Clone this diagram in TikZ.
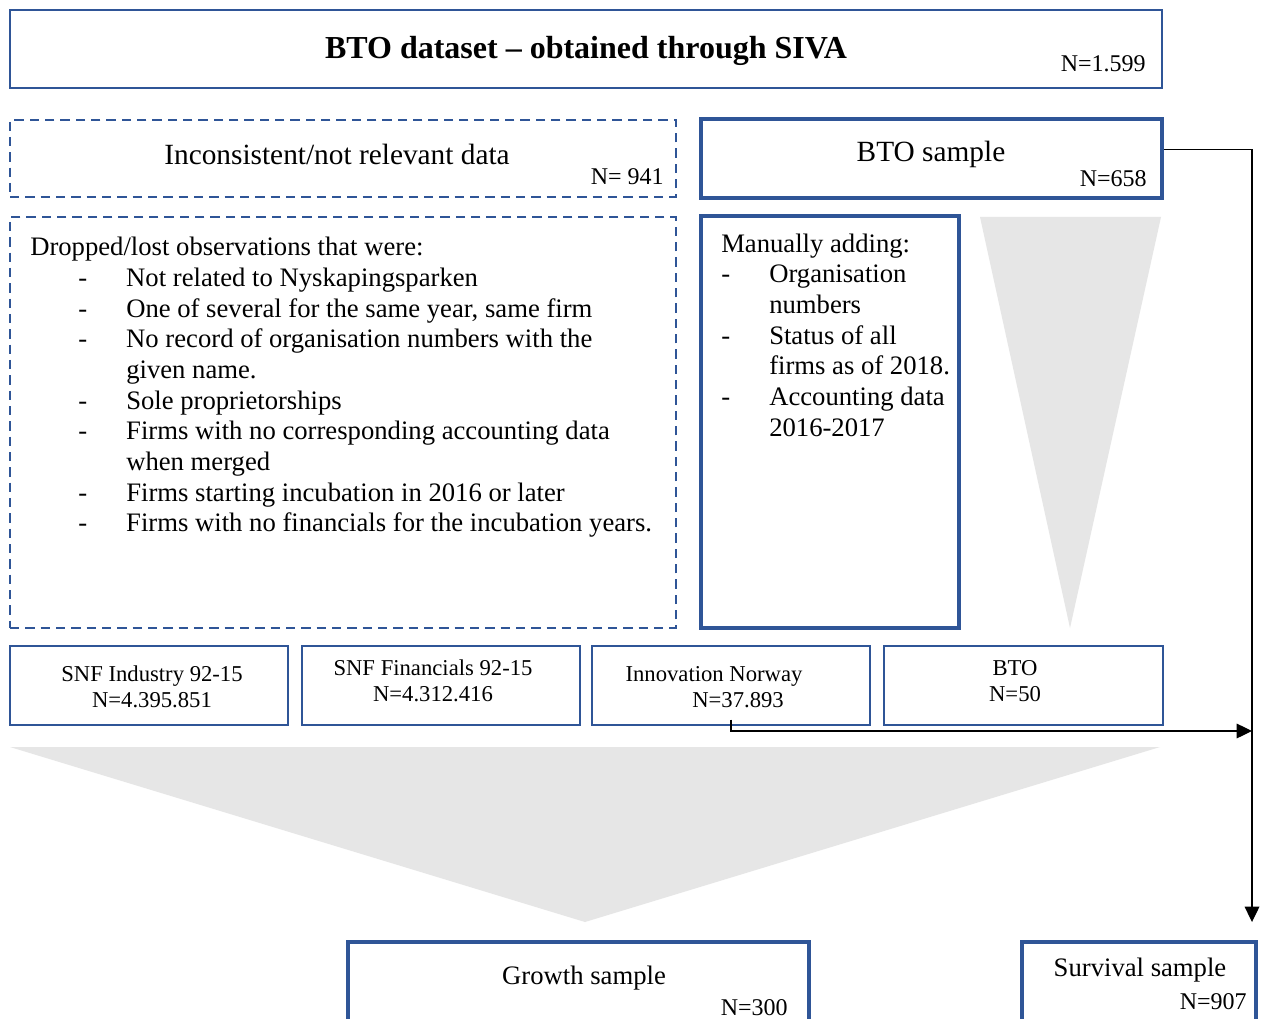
\documentclass[tikz,border=0pt]{standalone}
\usepackage{fontspec}
\setmainfont{Liberation Serif}
\usetikzlibrary{arrows.meta,fit,calc}
\definecolor{boxblue}{HTML}{2F5597}
\definecolor{fanGray}{HTML}{E6E6E6}
\tikzset{
  bluebox/.style={draw=boxblue, line width=2.2pt, inner sep=0pt, rectangle},
  thickbox/.style={draw=boxblue, line width=3pt, inner sep=0pt, rectangle},
  thinbox/.style={draw=boxblue, line width=1.8pt, inner sep=0pt, rectangle},
  dashbox/.style={draw=boxblue, line width=1.9pt, dash pattern=on 7pt off 4.5pt, inner sep=0pt, rectangle},
  body/.style={font=\fontsize{20}{23}\selectfont, inner sep=0pt},
  head/.style={font=\fontsize{22}{25}\selectfont, inner sep=0pt},
  nval/.style={font=\fontsize{18}{21}\selectfont, inner sep=0pt},
  small/.style={font=\fontsize{17}{19.5}\selectfont, inner sep=0pt, align=center},
  conn/.style={draw=black, line width=0.9pt, -{Triangle[length=11.5pt,width=11pt]}},
}
\begin{document}
\begin{tikzpicture}[x=0.75pt,y=-0.75pt]
\clip (0,0) rectangle (1266,1019);
\fill[white] (0,0) rectangle (1266,1019);

% gray fans
\fill[fanGray] (980,217) -- (1161,217) -- (1070,628) -- cycle;
\fill[fanGray] (10,747) -- (1160,747) -- (585,922) -- cycle;

% top box
\node[bluebox, fit={(10,10) (1162,88)}] (top) {};
\node[font=\fontsize{24}{28}\selectfont\bfseries, inner sep=0pt] (toptitle) at (586,51) {BTO dataset -- obtained through SIVA};
\node[nval, anchor=east] (topn) at (1146,64) {N=1.599};

% inconsistent
\node[dashbox, fit={(10,120) (676,197)}] (incons) {};
\node[head] (incontxt) at (337,154) {Inconsistent/not relevant data};
\node[nval, anchor=east] (inconn) at (664,177) {N= 941};

% BTO sample
\node[thickbox, fit={(701,119) (1162,198)}] (bto) {};
\node[head] (btotxt) at (931,154) {BTO sample};
\node[nval, anchor=east] (bton) at (1147,179) {N=658};

% dropped box
\node[dashbox, fit={(10,217) (676,628)}] (dropped) {};
\node[body, anchor=north west, align=left] (droptxt) at (30,237) {%
Dropped/lost observations that were:\\
\hspace*{36pt}\makebox[36pt][l]{-}Not related to Nyskapingsparken\\
\hspace*{36pt}\makebox[36pt][l]{-}One of several for the same year, same firm\\
\hspace*{36pt}\makebox[36pt][l]{-}No record of organisation numbers with the\\
\hspace*{72pt}given name.\\
\hspace*{36pt}\makebox[36pt][l]{-}Sole proprietorships\\
\hspace*{36pt}\makebox[36pt][l]{-}Firms with no corresponding accounting data\\
\hspace*{72pt}when merged\\
\hspace*{36pt}\makebox[36pt][l]{-}Firms starting incubation in 2016 or later\\
\hspace*{36pt}\makebox[36pt][l]{-}Firms with no financials for the incubation years.};

% manual box
\node[thickbox, fit={(701,216) (959,628)}] (manual) {};
\node[body, anchor=north west, align=left] (mantxt) at (721,233.5) {%
Manually adding:\\
\makebox[36pt][l]{-}Organisation\\
\hspace*{36pt}numbers\\
\makebox[36pt][l]{-}Status of all\\
\hspace*{36pt}firms as of 2018.\\
\makebox[36pt][l]{-}Accounting data\\
\hspace*{36pt}2016-2017};

% small boxes
\node[thinbox, fit={(10,646) (288,725)}] (snfi) {};
\node[small] (snfitxt) at (152,687) {SNF Industry 92-15\\N=4.395.851};
\node[thinbox, fit={(302,646) (580,725)}] (snff) {};
\node[small] (snfftxt) at (433,681) {SNF Financials 92-15\\N=4.312.416};
\node[thinbox, fit={(592,646) (870,725)}] (inv) {};
\node[small] (invtxt1) at (714,676) {Innovation Norway};
\node[small] (invtxt2) at (738,700) {N=37.893};
\node[thinbox, fit={(884,646) (1163,725)}] (btos) {};
\node[small] (btostxt) at (1015,681) {BTO\\N=50};

% bottom boxes
\node[thickbox, fit={(348,942) (809,1045)}] (growth) {};
\node[body] (growthtxt) at (584,978) {Growth sample};
\node[nval, anchor=east] (growthn) at (788,1008) {N=300};
\node[thickbox, fit={(1022,942) (1256,1045)}] (surv) {};
\node[body] (survtxt) at (1140,970) {Survival sample};
\node[nval, anchor=east] (survn) at (1247,1002) {N=907};

% connectors
\coordinate (survtop) at (1252,922);
\coordinate (join) at (1252,731);
\draw[conn] ([yshift=7pt]bto.east) -| (survtop);
\draw[conn] ([yshift=5pt]inv.south) |- (join);
\end{tikzpicture}
\end{document}
